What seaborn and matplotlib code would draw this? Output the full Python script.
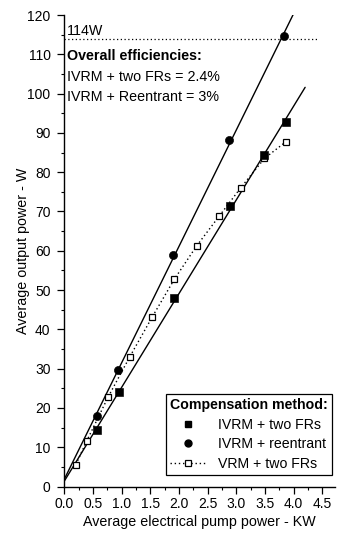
import numpy as np
import pandas as pd
import matplotlib
matplotlib.use("Agg")
import matplotlib.pyplot as plt
from matplotlib.lines import Line2D
from matplotlib.ticker import MultipleLocator
import seaborn as sns

# data
pump_two_frs = [0.57, 0.96, 1.92, 2.89, 3.49, 3.87]
out_two_frs = [14.4, 24.1, 48.1, 71.4, 84.5, 92.8]

pump_reentrant = [0.56, 0.94, 1.90, 2.88, 3.84]
out_reentrant = [17.9, 29.6, 58.9, 88.3, 114.6]

pump_vrm = [0.20, 0.39, 0.76, 1.14, 1.53, 1.92, 2.31, 2.70, 3.08, 3.49, 3.86]
out_vrm = [5.6, 11.6, 22.7, 33.0, 43.1, 52.8, 61.3, 68.8, 76.1, 83.5, 87.7]

max_power = 114
eff_two_frs = 2.4
eff_reentrant = 3

sns.set_theme(style="ticks")
plt.rcParams['font.family'] = ['Liberation Sans', 'DejaVu Sans']
plt.rcParams['text.color'] = 'black'
plt.rcParams['axes.labelcolor'] = 'black'
plt.rcParams['xtick.color'] = 'black'
plt.rcParams['ytick.color'] = 'black'

fig = plt.figure(figsize=(3.39, 5.33), dpi=100, facecolor='w')
ax = fig.add_axes([0.190, 0.0872, 0.798, 0.8846])

df_frs = pd.DataFrame({'x': pump_two_frs, 'y': out_two_frs})
df_re = pd.DataFrame({'x': pump_reentrant, 'y': out_reentrant})
df_vrm = pd.DataFrame({'x': pump_vrm, 'y': out_vrm})

# linear fits through the two IVRM series
for d, xend in [(df_frs, 4.2), (df_re, 4.1)]:
    k, b = np.polyfit(d['x'], d['y'], 1)
    xs = np.array([0.0, xend])
    sns.lineplot(x=xs, y=k * xs + b, color='black', lw=1.0, ax=ax, legend=False)

# dotted VRM series
sns.lineplot(data=df_vrm, x='x', y='y', color='black', lw=1.0, linestyle=(0, (1, 2)),
             marker='s', markersize=5, markerfacecolor='white', markeredgecolor='black',
             markeredgewidth=0.9, ax=ax, legend=False)

sns.scatterplot(data=df_frs, x='x', y='y', marker='s', color='black', s=30,
                edgecolor='black', ax=ax, legend=False, zorder=5)
sns.scatterplot(data=df_re, x='x', y='y', marker='o', color='black', s=34,
                edgecolor='black', ax=ax, legend=False, zorder=5)

# 114 W line
ax.axhline(max_power, xmin=0, xmax=4.44 / 4.72, color='black', lw=0.9, linestyle=(0, (1, 2)))
fs = 10.3
ax.text(0.04, max_power + 0.1, f"{max_power}W", fontsize=fs, va='bottom', ha='left')
ax.text(0.04, 109.6, "Overall efficiencies:", fontsize=fs, fontweight='bold', va='center')
ax.text(0.04, 104.3, f"IVRM + two FRs = {eff_two_frs}%", fontsize=fs, va='center')
ax.text(0.04, 99.1, f"IVRM + Reentrant = {eff_reentrant}%", fontsize=fs, va='center')

ax.set_xlim(0, 4.72)
ax.set_ylim(0, 120)
ax.xaxis.set_major_locator(MultipleLocator(0.5))
ax.xaxis.set_minor_locator(MultipleLocator(0.25))
ax.yaxis.set_major_locator(MultipleLocator(10))
ax.yaxis.set_minor_locator(MultipleLocator(5))
ax.set_xticks(np.arange(0, 4.6, 0.5))
ax.set_xticklabels([f"{v:.1f}" for v in np.arange(0, 4.6, 0.5)])
ax.tick_params(which='major', length=5, width=0.9, labelsize=10)
ax.tick_params(axis='y', which='major', pad=5)
ax.tick_params(axis='x', which='major', pad=2.5)
ax.tick_params(which='minor', length=2.5, width=0.8)
sns.despine(ax=ax)
for s in ['left', 'bottom']:
    ax.spines[s].set_linewidth(1.0)
    ax.spines[s].set_color('black')

ax.set_xlabel("Average electrical pump power - KW", fontsize=10.3, labelpad=3)
ax.set_ylabel("Average output power - W", fontsize=10.3, labelpad=-2)

handles = [
    Line2D([], [], color='black', marker='s', linestyle='none', markersize=5),
    Line2D([], [], color='black', marker='o', linestyle='none', markersize=5),
    Line2D([], [], color='black', marker='s', linestyle=(0, (1, 2)), lw=1.0,
           markersize=4.5, markerfacecolor='white', markeredgewidth=0.9),
]
labels = ["IVRM + two FRs", "IVRM + reentrant", "VRM + two FRs"]
leg = ax.legend(handles, labels, title="Compensation method:", loc='lower left',
                bbox_to_anchor=(0.375, 0.024), borderaxespad=0, fontsize=10.2,
                title_fontproperties={'weight': 'bold', 'size': 10.2},
                frameon=True, fancybox=False, edgecolor='black', framealpha=1,
                handlelength=2.5, handletextpad=0.9, labelspacing=0.4,
                borderpad=0.3)
leg._legend_box.align = 'left'
leg.get_frame().set_linewidth(0.9)

fig.savefig("out.png", dpi=100, facecolor='w')
